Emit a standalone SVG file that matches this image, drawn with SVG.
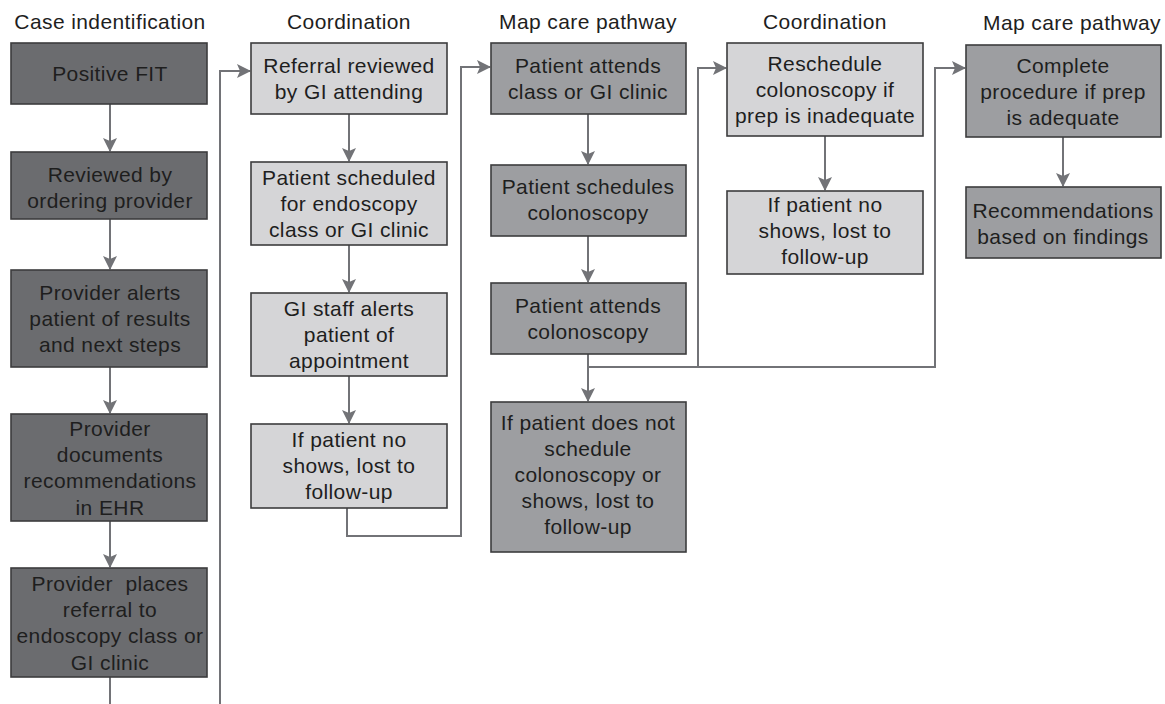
<svg xmlns="http://www.w3.org/2000/svg" width="1165" height="704" viewBox="0 0 1165 704">
<style>
.bx{stroke:#3c3c3e;stroke-width:1.6}
.d{fill:#6b6c6f}
.m{fill:#9d9ea1}
.l{fill:#d5d5d7}
text{font-family:"Liberation Sans",Arial,Helvetica,sans-serif;font-size:21px;letter-spacing:0.4px;fill:#1e1e1e;text-anchor:middle}
.c{fill:none;stroke:#727377;stroke-width:2}
</style>
<defs>
<marker id="ah" markerWidth="14" markerHeight="14" viewBox="0 0 14 14" refX="13" refY="7" orient="auto" markerUnits="userSpaceOnUse">
<path d="M0,0 L14,7 L0,14 L3,7 z" fill="#727377"/>
</marker>
</defs>
<rect width="1165" height="704" fill="#ffffff"/>
<g id="headers">
<text x="110" y="29">Case indentification</text>
<text x="349" y="29">Coordination</text>
<text x="588" y="29">Map care pathway</text>
<text x="825" y="29">Coordination</text>
<text x="1072" y="30">Map care pathway</text>
</g>
<g id="connectors">
<line class="c" x1="110" y1="104" x2="110" y2="151" marker-end="url(#ah)"/>
<line class="c" x1="110" y1="219" x2="110" y2="269" marker-end="url(#ah)"/>
<line class="c" x1="110" y1="367" x2="110" y2="413" marker-end="url(#ah)"/>
<line class="c" x1="110" y1="521" x2="110" y2="567" marker-end="url(#ah)"/>
<line class="c" x1="110" y1="677" x2="110" y2="704"/>
<polyline class="c" points="220,704 220,71 250,71" marker-end="url(#ah)"/>
<line class="c" x1="349" y1="114" x2="349" y2="161" marker-end="url(#ah)"/>
<line class="c" x1="349" y1="245" x2="349" y2="292" marker-end="url(#ah)"/>
<line class="c" x1="349" y1="376" x2="349" y2="423" marker-end="url(#ah)"/>
<polyline class="c" points="347,508 347,536 461,536 461,67 490,67" marker-end="url(#ah)"/>
<line class="c" x1="588" y1="114" x2="588" y2="164" marker-end="url(#ah)"/>
<line class="c" x1="588" y1="236" x2="588" y2="282" marker-end="url(#ah)"/>
<line class="c" x1="588" y1="354" x2="588" y2="401" marker-end="url(#ah)"/>
<polyline class="c" points="588,367 935,367 935,68 965,68" marker-end="url(#ah)"/>
<polyline class="c" points="698,367 698,68 726,68" marker-end="url(#ah)"/>
<line class="c" x1="825" y1="136" x2="825" y2="190" marker-end="url(#ah)"/>
<line class="c" x1="1063" y1="137" x2="1063" y2="186" marker-end="url(#ah)"/>
</g>
<g id="n1"><rect class="bx d" x="11" y="43" width="196" height="61"/><text x="110" y="81">Positive FIT</text></g>
<g id="n2"><rect class="bx d" x="11" y="152" width="196" height="67"/><text x="110" y="182">Reviewed by</text><text x="110" y="208">ordering provider</text></g>
<g id="n3"><rect class="bx d" x="11" y="270" width="196" height="97"/><text x="110" y="300">Provider alerts</text><text x="110" y="326">patient of results</text><text x="110" y="352">and next steps</text></g>
<g id="n4"><rect class="bx d" x="11" y="414" width="196" height="107"/><text x="110" y="436">Provider</text><text x="110" y="462">documents</text><text x="110" y="488">recommendations</text><text x="110" y="515">in EHR</text></g>
<g id="n5"><rect class="bx d" x="11" y="568" width="196" height="109"/><text x="110" y="591" xml:space="preserve">Provider  places</text><text x="110" y="617">referral to</text><text x="110" y="643">endoscopy class or</text><text x="110" y="670">GI clinic</text></g>
<g id="n6"><rect class="bx l" x="251" y="43" width="196" height="71"/><text x="349" y="73">Referral reviewed</text><text x="349" y="99">by GI attending</text></g>
<g id="n7"><rect class="bx l" x="251" y="162" width="196" height="83"/><text x="349" y="185">Patient scheduled</text><text x="349" y="211">for endoscopy</text><text x="349" y="237">class or GI clinic</text></g>
<g id="n8"><rect class="bx l" x="251" y="293" width="196" height="83"/><text x="349" y="316">GI staff alerts</text><text x="349" y="342">patient of</text><text x="349" y="368">appointment</text></g>
<g id="n9"><rect class="bx l" x="251" y="424" width="196" height="84"/><text x="349" y="447">If patient no</text><text x="349" y="473">shows, lost to</text><text x="349" y="499">follow-up</text></g>
<g id="n10"><rect class="bx m" x="491" y="43" width="195" height="71"/><text x="588" y="73">Patient attends</text><text x="588" y="99">class or GI clinic</text></g>
<g id="n11"><rect class="bx m" x="491" y="165" width="195" height="71"/><text x="588" y="194">Patient schedules</text><text x="588" y="220">colonoscopy</text></g>
<g id="n12"><rect class="bx m" x="491" y="283" width="195" height="71"/><text x="588" y="313">Patient attends</text><text x="588" y="339">colonoscopy</text></g>
<g id="n13"><rect class="bx m" x="491" y="402" width="195" height="150"/><text x="588" y="430">If patient does not</text><text x="588" y="456">schedule</text><text x="588" y="482">colonoscopy or</text><text x="588" y="508">shows, lost to</text><text x="588" y="534">follow-up</text></g>
<g id="n14"><rect class="bx l" x="727" y="43" width="196" height="93"/><text x="825" y="71">Reschedule</text><text x="825" y="97">colonoscopy if</text><text x="825" y="123">prep is inadequate</text></g>
<g id="n15"><rect class="bx l" x="727" y="191" width="196" height="83"/><text x="825" y="212">If patient no</text><text x="825" y="238">shows, lost to</text><text x="825" y="264">follow-up</text></g>
<g id="n16"><rect class="bx m" x="966" y="45" width="195" height="92"/><text x="1063" y="73">Complete</text><text x="1063" y="99">procedure if prep</text><text x="1063" y="125">is adequate</text></g>
<g id="n17"><rect class="bx m" x="966" y="187" width="195" height="71"/><text x="1063" y="218">Recommendations</text><text x="1063" y="244">based on findings</text></g>
</svg>
